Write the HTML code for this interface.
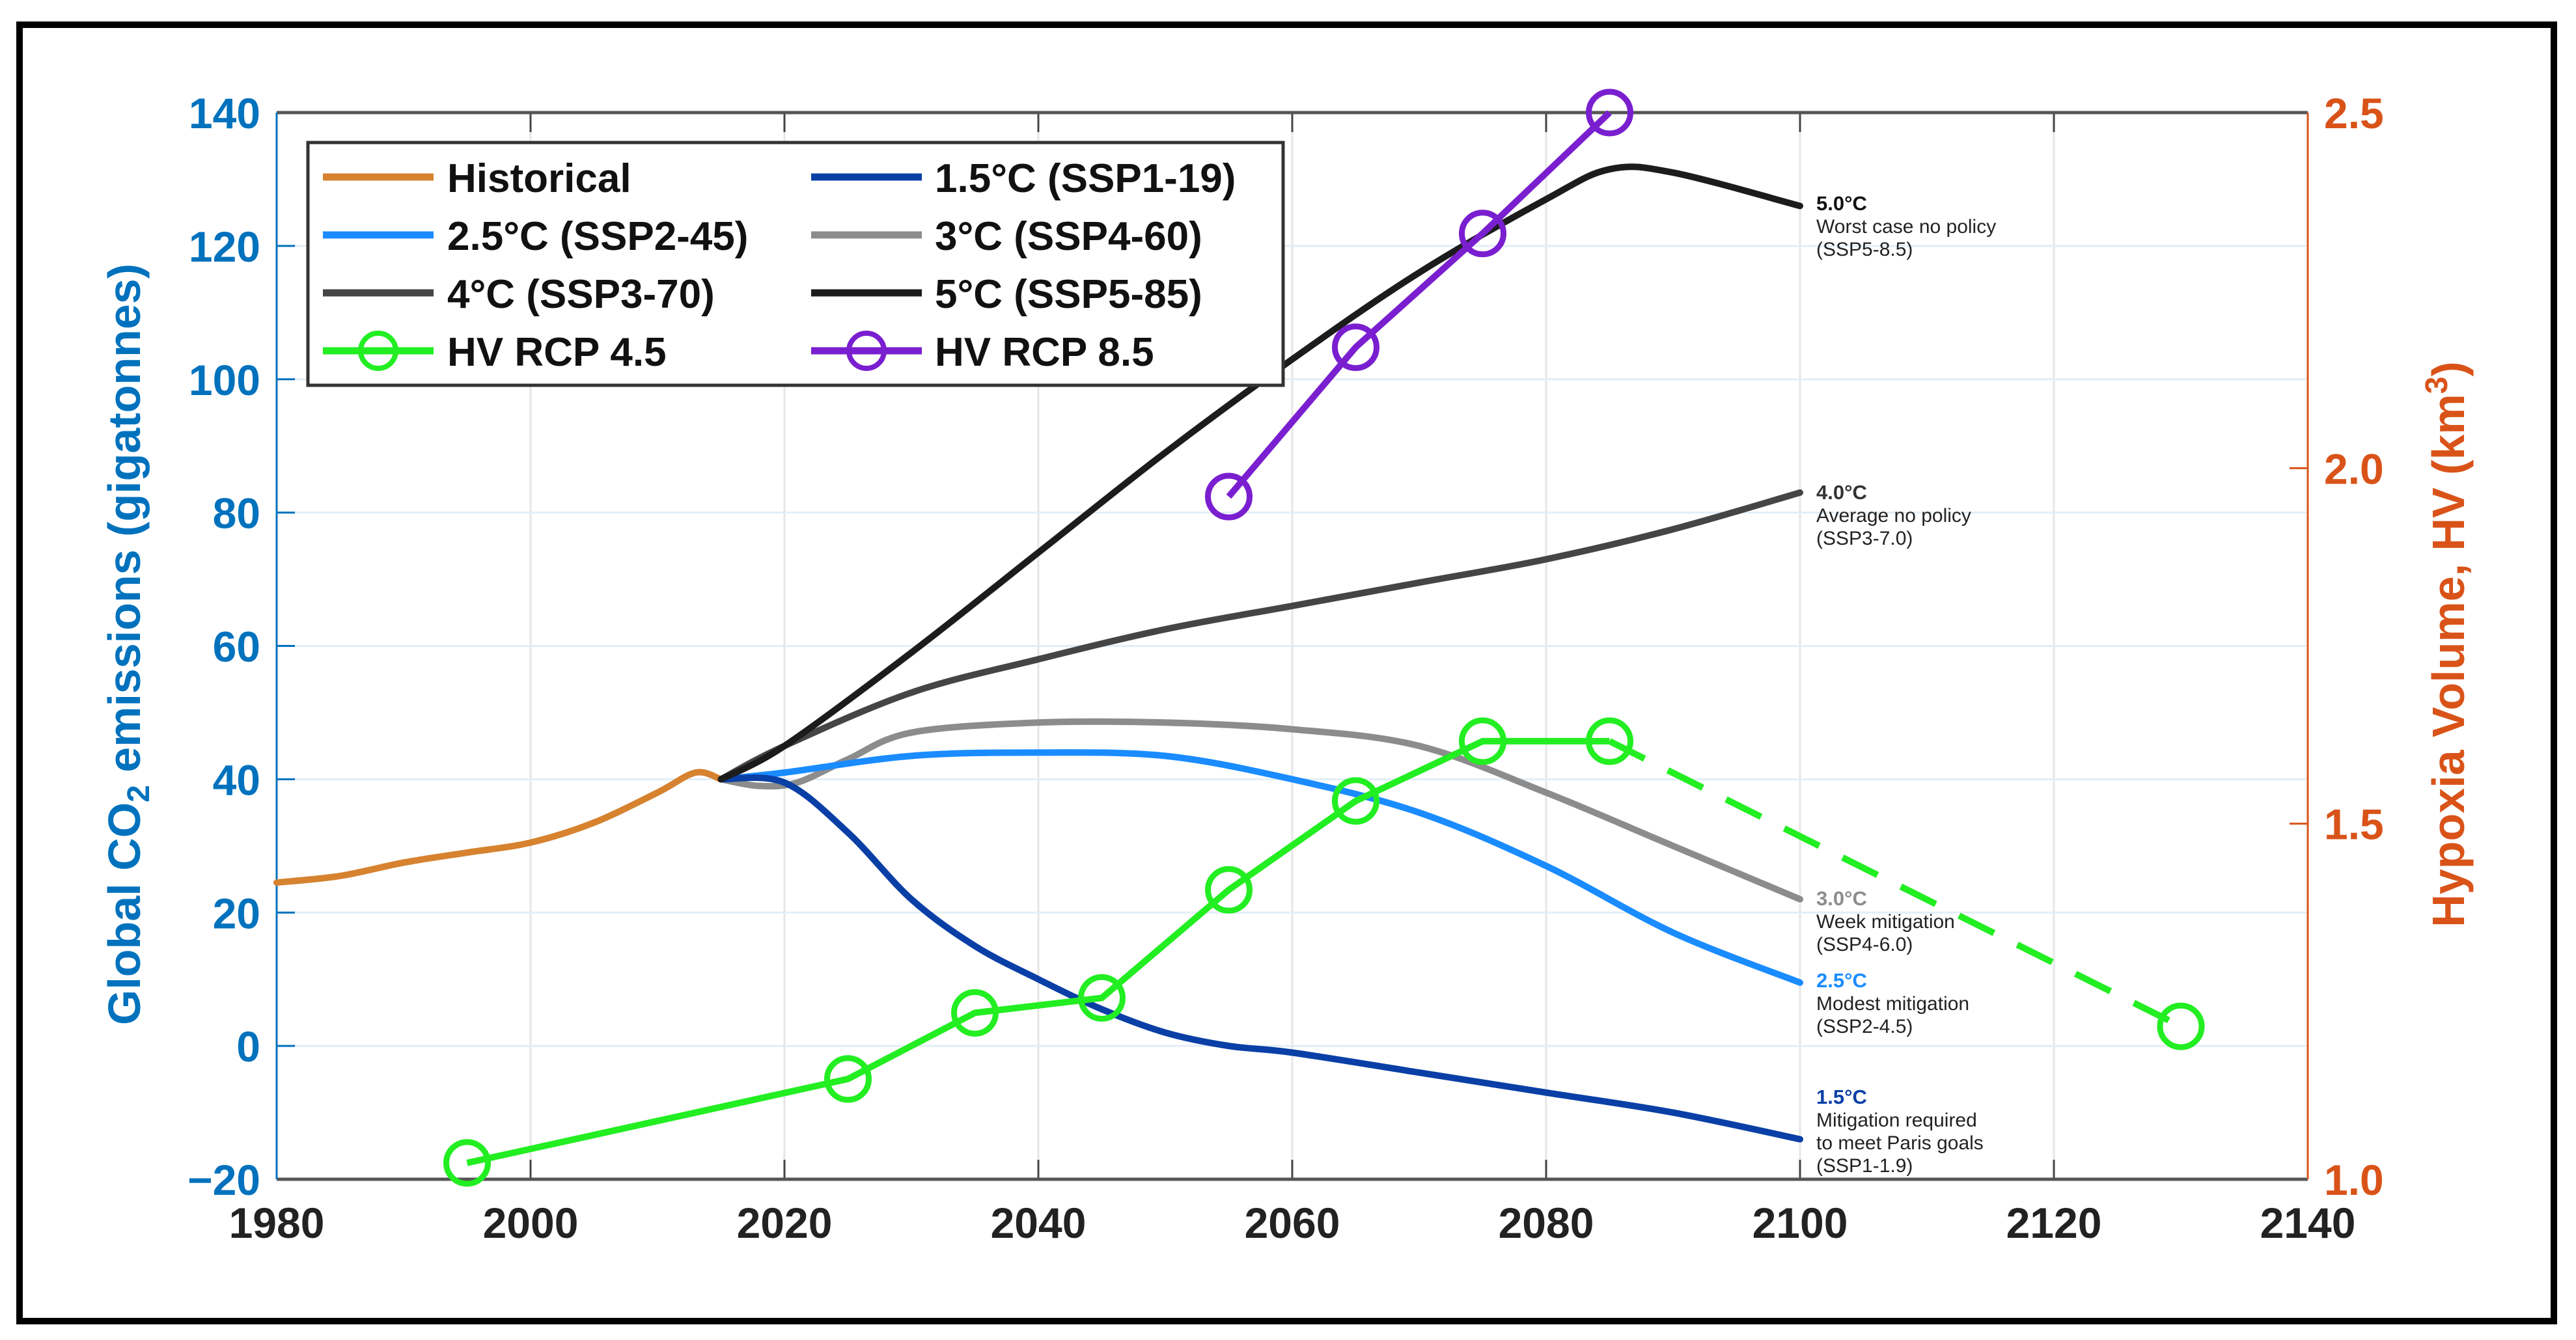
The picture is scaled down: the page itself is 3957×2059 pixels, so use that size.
<!DOCTYPE html>
<html><head><meta charset="utf-8"><style>
html,body{margin:0;padding:0;background:#fff;}
svg{display:block;font-family:"Liberation Sans",Arial,sans-serif;}
</style></head><body>
<svg id="chart" width="3957" height="2059" viewBox="0 0 3957 2059" xmlns="http://www.w3.org/2000/svg">
<rect x="30" y="38" width="3893" height="1992" fill="#fff" stroke="#000" stroke-width="10"/>
<g id="grid"></g>
<g id="axes"></g>
<g id="series"></g>
<g id="annot"></g>
<g id="legend"></g>
<text transform="translate(215,990) rotate(-90)" text-anchor="middle" font-size="70" font-weight="bold" fill="#0072bd">Global CO<tspan font-size="48" dy="14">2</tspan><tspan dy="-14"> emissions (gigatonnes)</tspan></text>
<text transform="translate(3785,990) rotate(-90)" text-anchor="middle" font-size="70" font-weight="bold" fill="#d95319">Hypoxia Volume, HV (km<tspan font-size="48" dy="-26">3</tspan><tspan dy="26">)</tspan></text>
</svg>
<script>
const xTicks=[1980,2000,2020,2040,2060,2080,2100,2120,2140];
const yTicks=[-20,0,20,40,60,80,100,120,140];
const yTickLabels=["\u221220","0","20","40","60","80","100","120","140"];
const rTicks=[1.0,1.5,2.0,2.5];
const rTickLabels=["1.0","1.5","2.0","2.5"];
const histYears=[1980,1985,1990,1995,2000,2005,2010,2013,2015];
const histVals=[24.5,25.5,27.5,29,30.5,33.5,38,41,40];
const ssp119Years=[2015,2020,2025,2030,2035,2040,2045,2050,2055,2060,2070,2080,2090,2100];
const ssp119Vals=[40,39.5,32,22,15,10,5.5,2,0,-1,-4,-7,-10,-14];
const ssp245Years=[2015,2020,2030,2040,2050,2060,2070,2080,2090,2100];
const ssp245Vals=[40,41,43.5,44,43.5,40,35,27,17,9.5];
const ssp460Years=[2015,2018,2021,2025,2030,2040,2050,2060,2070,2080,2090,2100];
const ssp460Vals=[40,39,39.5,43,47,48.5,48.5,47.5,45,38,30,22];
const ssp370Years=[2015,2020,2030,2040,2050,2060,2070,2080,2090,2100];
const ssp370Vals=[40,45,53,58,62.5,66,69.5,73,77.5,83];
const ssp585Years=[2015,2020,2030,2040,2050,2060,2070,2080,2085,2090,2100];
const ssp585Vals=[40,45,59,74,89,103,116,127,131.5,131,126];
const hv45Years=[1995,2025,2035,2045,2055,2065,2075,2085];
const hv45Vals=[1.023,1.141,1.234,1.255,1.407,1.532,1.616,1.616];
const hv45ProjYears=[2085,2130];
const hv45ProjVals=[1.616,1.215];
const hv85Years=[2055,2065,2075,2085];
const hv85Vals=[1.96,2.17,2.33,2.50];

const L=425,R=3545,T=173,B=1812;
const X=v=>L+(v-1980)/(160)*(R-L);
const Y=v=>B-(v+20)/160*(B-T);
const YR=v=>B-(v-1.0)/1.5*(B-T);
const NS="http://www.w3.org/2000/svg";
function mk(tag,attrs,parent){const e=document.createElementNS(NS,tag);for(const k in attrs)e.setAttribute(k,attrs[k]);parent.appendChild(e);return e;}
const grid=document.getElementById('grid'),axes=document.getElementById('axes'),series=document.getElementById('series');

xTicks.forEach((t,i)=>{if(i>0&&i<xTicks.length-1){const l=mk('line',{x1:X(t),x2:X(t),y1:T,y2:B,stroke:'#e6e6e6','stroke-width':3},grid);}
 const tk=mk('line',{x1:X(t),x2:X(t),y1:T,y2:T+30,stroke:'#444','stroke-width':3},axes);
 const tb=mk('line',{x1:X(t),x2:X(t),y1:B,y2:B-30,stroke:'#444','stroke-width':3},axes);
 const tx=mk('text',{x:X(t),y:B+90,'text-anchor':'middle','font-size':66,'font-weight':'bold',fill:'#222'},axes);tx.textContent=t;});
yTicks.forEach((t,i)=>{if(i>0&&i<yTicks.length-1){const l=mk('line',{x1:L,x2:R,y1:Y(t),y2:Y(t),stroke:'#e4eef6','stroke-width':3},grid);}
 const tk=mk('line',{x1:L,x2:L+28,y1:Y(t),y2:Y(t),stroke:'#0072bd','stroke-width':3},axes);
 const tx=mk('text',{x:L-25,y:Y(t)+24,'text-anchor':'end','font-size':66,'font-weight':'bold',fill:'#0072bd'},axes);tx.textContent=yTickLabels[i];});
rTicks.forEach((t,i)=>{const tk=mk('line',{x1:R-28,x2:R,y1:YR(t),y2:YR(t),stroke:'#d95319','stroke-width':3},axes);
 const tx=mk('text',{x:R+25,y:YR(t)+24,'font-size':66,'font-weight':'bold',fill:'#d95319'},axes);tx.textContent=rTickLabels[i];});
let a;
a=mk('line',{x1:L,x2:R,y1:T,y2:T,stroke:'#555','stroke-width':5},axes);
a=mk('line',{x1:L,x2:R,y1:B,y2:B,stroke:'#555','stroke-width':5},axes);
a=mk('line',{x1:L,x2:L,y1:T,y2:B,stroke:'#0072bd','stroke-width':3},axes);
a=mk('line',{x1:R,x2:R,y1:T,y2:B,stroke:'#d95319','stroke-width':3},axes);

function smooth(pts){let d=`M${pts[0][0]},${pts[0][1]}`;for(let i=0;i<pts.length-1;i++){const p0=pts[i-1]||pts[i],p1=pts[i],p2=pts[i+1],p3=pts[i+2]||p2;
 const c1=[p1[0]+(p2[0]-p0[0])/6,p1[1]+(p2[1]-p0[1])/6],c2=[p2[0]-(p3[0]-p1[0])/6,p2[1]-(p3[1]-p1[1])/6];d+=`C${c1[0]},${c1[1]} ${c2[0]},${c2[1]} ${p2[0]},${p2[1]}`;}return d;}
function curve(xs,vs,color,name){const p=mk('path',{d:smooth(xs.map((x,i)=>[X(x),Y(vs[i])])),fill:'none',stroke:color,'stroke-width':10,'stroke-linejoin':'round','stroke-linecap':'round'},series);}
curve(histYears,histVals,'#d6822f','historical-line');
curve(ssp460Years,ssp460Vals,'#8c8c8c','ssp4-60-line');
curve(ssp245Years,ssp245Vals,'#1a8cff','ssp2-45-line');
curve(ssp119Years,ssp119Vals,'#0a3fa6','ssp1-19-line');
curve(ssp370Years,ssp370Vals,'#454545','ssp3-70-line');
curve(ssp585Years,ssp585Vals,'#1c1c1c','ssp5-85-line');
function markers(xs,vs,color,name,dash){const pts=xs.map((x,i)=>`${X(x)},${YR(vs[i])}`).join(' ');
 const l=mk('polyline',{points:pts,fill:'none',stroke:color,'stroke-width':10},series);if(dash)l.setAttribute('stroke-dasharray','60,40');}
function circles(xs,vs,color,name){xs.forEach((x,i)=>{const c=mk('circle',{cx:X(x),cy:YR(vs[i]),r:32,fill:'none',stroke:color,'stroke-width':9},series);});}
markers(hv45ProjYears,hv45ProjVals,'#22ee22','hv-rcp45-projection',true);
markers(hv45Years,hv45Vals,'#22ee22','hv-rcp45');
circles(hv45Years,hv45Vals,'#22ee22','hv-rcp45');
circles([hv45ProjYears[1]],[hv45ProjVals[1]],'#22ee22','hv-rcp45-projection');
markers(hv85Years,hv85Vals,'#7a1fd0','hv-rcp85');
circles(hv85Years,hv85Vals,'#7a1fd0','hv-rcp85');

const annots=[
 {y:313,head:'5.0°C',c:'#111',lines:['Worst case no policy','(SSP5-8.5)'],n:'ssp5-annotation'},
 {y:757,head:'4.0°C',c:'#333',lines:['Average no policy','(SSP3-7.0)'],n:'ssp3-annotation'},
 {y:1381,head:'3.0°C',c:'#8c8c8c',lines:['Week mitigation','(SSP4-6.0)'],n:'ssp4-annotation'},
 {y:1507,head:'2.5°C',c:'#1a8cff',lines:['Modest mitigation','(SSP2-4.5)'],n:'ssp2-annotation'},
 {y:1686,head:'1.5°C',c:'#0a3fa6',lines:['Mitigation required','to meet Paris goals','(SSP1-1.9)'],n:'ssp1-annotation'}];
const an=document.getElementById('annot');
annots.forEach(o=>{const t=mk('text',{x:2790,y:o.y+10,'font-size':30,fill:'#222'},an);
 const h=mk('tspan',{x:2790,fill:o.c,'font-weight':'bold','font-size':31},t);h.textContent=o.head;
 o.lines.forEach(s=>{const sp=mk('tspan',{x:2790,dy:35},t);sp.textContent=s;});});

const lg=document.getElementById('legend');
a=mk('rect',{x:473,y:219,width:1498,height:373,fill:'#fff',stroke:'#333','stroke-width':5},lg);
const leg=[['Historical','#d6822f',0],['1.5°C (SSP1-19)','#0a3fa6',0],['2.5°C (SSP2-45)','#1a8cff',0],['3°C (SSP4-60)','#8c8c8c',0],['4°C (SSP3-70)','#454545',0],['5°C (SSP5-85)','#1c1c1c',0],['HV RCP 4.5','#22ee22',1],['HV RCP 8.5','#7a1fd0',1]];
leg.forEach((e,i)=>{const col=i%2,row=Math.floor(i/2);const lx=col?1246:496,tx=col?1436:687,y=272+row*89;
 const g=mk('g',{},lg);
 mk('line',{x1:lx,x2:lx+170,y1:y,y2:y,stroke:e[1],'stroke-width':11},g);
 if(e[2])mk('circle',{cx:lx+85,cy:y,r:27,fill:'none',stroke:e[1],'stroke-width':8},g);
 const t=mk('text',{x:tx,y:y+23,'font-size':62,'font-weight':'bold',fill:'#111'},g);t.textContent=e[0];});
</script>
</body></html>
